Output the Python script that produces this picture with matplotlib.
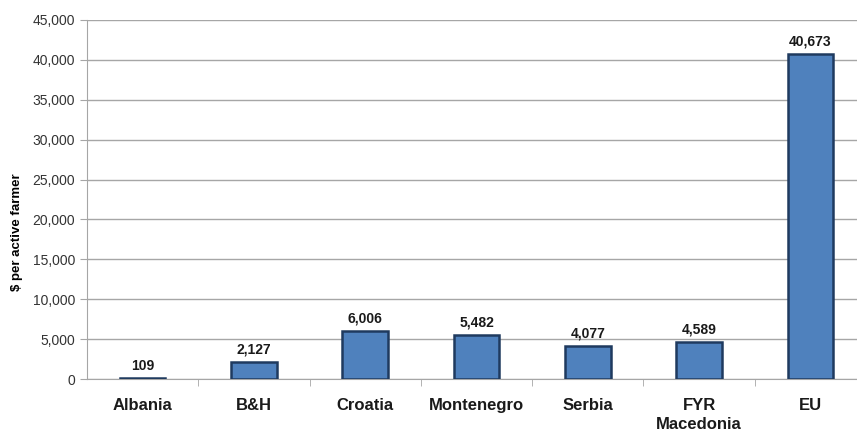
import matplotlib.pyplot as plt
import numpy as np
from matplotlib.ticker import FuncFormatter, FixedLocator

countries = ["Albania", "B&H", "Croatia", "Montenegro", "Serbia", "FYR\nMacedonia", "EU"]
values = [109, 2127, 6006, 5482, 4077, 4589, 40673]
yticks = [0, 5000, 10000, 15000, 20000, 25000, 30000, 35000, 40000, 45000]

plt.rcParams['font.family'] = ['Liberation Sans', 'DejaVu Sans']

fig = plt.figure(figsize=(8.57, 4.34), dpi=100)
ax = fig.add_axes([0.1015, 0.1267, 0.909, 0.8273])

x = np.arange(len(countries))
ax.bar(x, values, width=0.41, color="#4F81BD", edgecolor="#1F3A5F", linewidth=1.8, zorder=3)

for xi, v in zip(x, values):
    ax.text(xi, v + 700, f"{v:,}", ha="center", va="bottom", fontsize=10,
            fontweight="bold", color="#1a1a1a")

ax.set_xlim(-0.5, len(countries) - 0.5)
ax.set_ylim(0, 45000)
ax.set_yticks(yticks)
ax.yaxis.set_major_formatter(FuncFormatter(lambda v, p: f"{int(v):,}"))
ax.grid(axis="y", color="#A6A6A6", linewidth=1.0, zorder=0)

ax.set_xticks(x)
ax.set_xticklabels(countries, fontsize=12, fontweight="bold", color="#1a1a1a",
                   linespacing=1.3)
ax.tick_params(axis="x", which="major", length=0, pad=14)
ax.xaxis.set_minor_locator(FixedLocator(np.arange(0.5, len(countries) - 0.5, 1)))
ax.tick_params(axis="x", which="minor", length=5, color="#A6A6A6")
ax.tick_params(axis="y", length=5, color="#A6A6A6", labelsize=10, labelcolor="#333333")

for s in ["top", "right"]:
    ax.spines[s].set_visible(False)
for s in ["left", "bottom"]:
    ax.spines[s].set_color("#A6A6A6")

ax.set_ylabel("$ per active farmer", fontsize=9.5, fontweight="bold")
ax.yaxis.set_label_coords(-0.082, 0.41)

fig.savefig("out.png", dpi=100)
